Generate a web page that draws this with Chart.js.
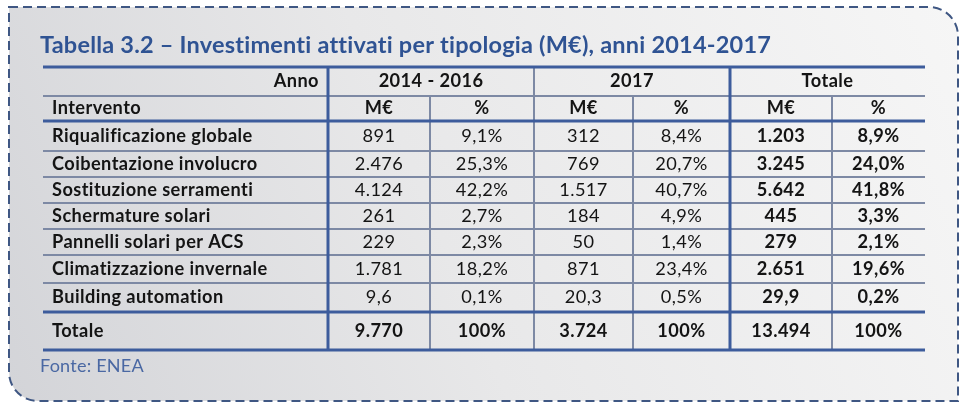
<!DOCTYPE html>
<html><head><meta charset="utf-8">
<script src="https://cdn.jsdelivr.net/npm/chart.js@4"></script>
<style>html,body{margin:0;padding:0;background:#fff;}canvas{display:block;}</style>
</head><body>
<canvas id="c" width="970" height="409"></canvas>
<script>
// ---------- DATA ----------
const TITLE = 'Tabella 3.2 – Investimenti attivati per tipologia (M€), anni 2014-2017';
const SOURCE = 'Fonte: ENEA';
const YEAR_HEADER = 'Anno';
const ROW_HEADER = 'Intervento';
const PERIODS = ['2014 - 2016', '2017', 'Totale'];
const UNITS = ['M€', '%'];
const INTERVENTIONS = [
  'Riqualificazione globale',
  'Coibentazione involucro',
  'Sostituzione serramenti',
  'Schermature solari',
  'Pannelli solari per ACS',
  'Climatizzazione invernale',
  'Building automation'
];
const TOTAL_LABEL = 'Totale';
const MEUR_2014_2016 = [891, 2476, 4124, 261, 229, 1781, 9.6];
const PCT_2014_2016  = [9.1, 25.3, 42.2, 2.7, 2.3, 18.2, 0.1];
const MEUR_2017      = [312, 769, 1517, 184, 50, 871, 20.3];
const PCT_2017       = [8.4, 20.7, 40.7, 4.9, 1.4, 23.4, 0.5];
const MEUR_TOTALE    = [1203, 3245, 5642, 445, 279, 2651, 29.9];
const PCT_TOTALE     = [8.9, 24.0, 41.8, 3.3, 2.1, 19.6, 0.2];
const TOTAL_MEUR     = [9770, 3724, 13494];
const TOTAL_PCT      = [100, 100, 100];

// ---------- LAYOUT / STYLE ----------
const FONT = 'Lato';
const COL_W = [285, 102, 104, 99, 97, 102, 93];           // label column + 6 value columns
const ROW_H = [29, 25, 30, 26, 26, 26, 26, 28, 29, 38];    // 2 header rows, 7 rows, total row
const THICK = {color: '#3d5c9c', width: 3};
const THIN  = {color: '#7d89a4', width: 2};
const TEXT_COLOR = '#141414';
const TITLE_COLOR = '#2f5393';
const SOURCE_COLOR = '#4a68a3';

const sum = a => a.reduce((s, v) => s + v, 0);
const edges = a => a.reduce((e, v) => (e.push(e[e.length - 1] + v), e), [0]);
const COL_E = edges(COL_W), ROW_E = edges(ROW_H);
const colCenter = c => (COL_E[c] + COL_E[c + 1]) / 2;
const rowCenter = r => (ROW_E[r] + ROW_E[r + 1]) / 2;

// font sizing: Lato glyphs sized like the reference, tracking tightened to match widths
const mctx = document.createElement('canvas').getContext('2d');
const HAS_LS = 'letterSpacing' in mctx;
function unitWidth(text, weight) {
  mctx.font = `${weight} 100px ${FONT}`;
  return mctx.measureText(text).width / 100;
}
const nChars = t => Array.from(t).length;
let TITLE_SIZE, TITLE_LS, SOURCE_SIZE, BODY_SIZE, BODY_LS;
if (HAS_LS) {
  TITLE_SIZE = 23.5;
  TITLE_LS = (732 - TITLE_SIZE * unitWidth(TITLE, 'bold')) / nChars(TITLE);
  SOURCE_SIZE = (104 - TITLE_LS * nChars(SOURCE)) / unitWidth(SOURCE, 'normal');
  BODY_SIZE = 18.2;
  BODY_LS = (216 - BODY_SIZE * unitWidth(INTERVENTIONS[5], 'bold')) / nChars(INTERVENTIONS[5]);
} else {
  TITLE_LS = 0; BODY_LS = 0;
  TITLE_SIZE = 732 / unitWidth(TITLE, 'bold');
  SOURCE_SIZE = 104 / unitWidth(SOURCE, 'normal');
  BODY_SIZE = 216 / unitWidth(INTERVENTIONS[5], 'bold');
}

// number formatting (Italian)
function fmtNum(v) {
  const parts = String(v).split('.');
  const i = parts[0].replace(/\B(?=(\d{3})+(?!\d))/g, '.');
  return parts[1] ? i + ',' + parts[1] : i;
}
const fmtPct = v => v.toFixed(1).replace('.', ',') + '%';
const fmtTotPct = v => String(v) + '%';

const COLUMNS = [
  {vals: MEUR_2014_2016, fmt: fmtNum, tot: TOTAL_MEUR[0], tfmt: fmtNum, bold: false},
  {vals: PCT_2014_2016,  fmt: fmtPct, tot: TOTAL_PCT[0],  tfmt: fmtTotPct, bold: false},
  {vals: MEUR_2017,      fmt: fmtNum, tot: TOTAL_MEUR[1], tfmt: fmtNum, bold: false},
  {vals: PCT_2017,       fmt: fmtPct, tot: TOTAL_PCT[1],  tfmt: fmtTotPct, bold: false},
  {vals: MEUR_TOTALE,    fmt: fmtNum, tot: TOTAL_MEUR[2], tfmt: fmtNum, bold: true},
  {vals: PCT_TOTALE,     fmt: fmtPct, tot: TOTAL_PCT[2],  tfmt: fmtTotPct, bold: true}
];

const datasets = COLUMNS.map((col, c) => {
  const data = col.vals.map((v, r) => ({x: colCenter(c + 1), y: rowCenter(r + 2), v, t: col.fmt(v), b: col.bold}));
  data.push({x: colCenter(c + 1), y: rowCenter(ROW_H.length - 1), v: col.tot, t: col.tfmt(col.tot), b: true});
  return {data, pointRadius: 0, pointHoverRadius: 0, showLine: false};
});

const bgPlugin = {
  id: 'bg',
  beforeDraw(chart) {
    const ctx = chart.ctx;
    ctx.save();
    ctx.fillStyle = '#ffffff';
    ctx.fillRect(0, 0, chart.width, chart.height);
    const L = 9, T = 7, R = 958, B = 401, r = 29;
    ctx.beginPath();
    ctx.moveTo(L, T);
    ctx.lineTo(R - r, T);
    ctx.arcTo(R, T, R, T + r, r);
    ctx.lineTo(R, B);
    ctx.lineTo(L + r, B);
    ctx.arcTo(L, B, L, B - r, r);
    ctx.closePath();
    const g = ctx.createLinearGradient(R, T, L, B);
    g.addColorStop(0, '#f6f6f6');
    g.addColorStop(0.55, '#e8e8e9');
    g.addColorStop(1, '#d3d4d8');
    ctx.fillStyle = g;
    ctx.fill();
    ctx.setLineDash([9, 5]);
    ctx.lineWidth = 2;
    ctx.strokeStyle = '#3f5783';
    ctx.stroke();
    ctx.restore();
    // tracking used by the title / source boxes drawn next
    if (HAS_LS) ctx.letterSpacing = TITLE_LS + 'px';
  }
};

const tablePlugin = {
  id: 'table',
  beforeDatasetsDraw(chart) {
    const {ctx, scales: {x, y}} = chart;
    const nR = ROW_H.length, nC = COL_W.length;
    const X = i => x.getPixelForValue(COL_E[i]);
    const Y = i => y.getPixelForValue(ROW_E[i]);
    const hline = (i, s) => { ctx.strokeStyle = s.color; ctx.lineWidth = s.width; ctx.beginPath(); ctx.moveTo(X(0), Y(i)); ctx.lineTo(X(nC), Y(i)); ctx.stroke(); };
    const vline = (i, r0, s) => { ctx.strokeStyle = s.color; ctx.lineWidth = s.width; ctx.beginPath(); ctx.moveTo(X(i), Y(r0)); ctx.lineTo(X(i), Y(nR)); ctx.stroke(); };
    ctx.save();
    // thin lines
    [1, 3, 4, 5, 6, 7, 8].forEach(i => hline(i, THIN));
    vline(3, 0, THIN);
    [2, 4, 6].forEach(i => vline(i, 1, THIN));
    // thick lines
    vline(1, 0, THICK);
    vline(5, 0, THICK);
    [0, 2, nR - 1, nR].forEach(i => hline(i, THICK));

    // header & labels
    if (HAS_LS) ctx.letterSpacing = BODY_LS + 'px';
    ctx.fillStyle = TEXT_COLOR;
    ctx.textBaseline = 'middle';
    ctx.font = `bold ${BODY_SIZE}px ${FONT}`;
    const pad = x.getPixelForValue(COL_E[0] + 9) - X(0);
    ctx.textAlign = 'right';
    ctx.fillText(YEAR_HEADER, X(1) - pad, y.getPixelForValue(rowCenter(0)));
    ctx.textAlign = 'center';
    PERIODS.forEach((p, k) => {
      const cx = x.getPixelForValue((COL_E[1 + 2 * k] + COL_E[3 + 2 * k]) / 2);
      ctx.fillText(p, cx, y.getPixelForValue(rowCenter(0)));
      UNITS.forEach((u, j) => ctx.fillText(u, x.getPixelForValue(colCenter(1 + 2 * k + j)), y.getPixelForValue(rowCenter(1))));
    });
    ctx.textAlign = 'left';
    const lx = X(0) + pad;
    ctx.fillText(ROW_HEADER, lx, y.getPixelForValue(rowCenter(1)));
    INTERVENTIONS.forEach((lab, r) => ctx.fillText(lab, lx, y.getPixelForValue(rowCenter(r + 2))));
    ctx.fillText(TOTAL_LABEL, lx, y.getPixelForValue(rowCenter(nR - 1)));
    ctx.restore();
  },
  afterDatasetsDraw(chart) {
    const ctx = chart.ctx;
    ctx.save();
    if (HAS_LS) ctx.letterSpacing = BODY_LS + 'px';
    ctx.fillStyle = TEXT_COLOR;
    ctx.textAlign = 'center';
    ctx.textBaseline = 'middle';
    chart.data.datasets.forEach((ds, di) => {
      chart.getDatasetMeta(di).data.forEach((el, i) => {
        const raw = ds.data[i];
        ctx.font = `${raw.b ? 'bold' : 'normal'} ${BODY_SIZE}px ${FONT}`;
        ctx.fillText(raw.t, el.x, el.y);
      });
    });
    ctx.restore();
  }
};

const TABLE_TOP = 67, TABLE_BOTTOM = 350, TITLE_MID = 45, SOURCE_MID = 366.5;
const tPadTop = TITLE_MID - 0.6 * TITLE_SIZE;
const tPadBottom = TABLE_TOP - tPadTop - 1.2 * TITLE_SIZE;
const sPadTop = SOURCE_MID - TABLE_BOTTOM - 0.6 * SOURCE_SIZE;
const sPadBottom = 8;
const layoutBottom = 409 - TABLE_BOTTOM - sPadTop - 1.2 * SOURCE_SIZE - sPadBottom;

new Chart(document.getElementById('c'), {
  type: 'scatter',
  data: {datasets},
  options: {
    responsive: false,
    animation: false,
    events: [],
    layout: {padding: {left: 40, right: 45, top: 0, bottom: layoutBottom}},
    scales: {
      x: {type: 'linear', display: false, min: -3, max: sum(COL_W)},
      y: {type: 'linear', display: false, reverse: true, min: 0, max: sum(ROW_H)}
    },
    plugins: {
      legend: {display: false},
      tooltip: {enabled: false},
      title: {display: true, text: TITLE, align: 'start', color: TITLE_COLOR,
        font: {family: FONT, size: TITLE_SIZE, weight: 'bold', lineHeight: 1.2},
        padding: {top: tPadTop, bottom: tPadBottom}},
      subtitle: {display: true, position: 'bottom', text: SOURCE, align: 'start', color: SOURCE_COLOR,
        font: {family: FONT, size: SOURCE_SIZE, weight: 'normal', lineHeight: 1.2},
        padding: {top: sPadTop, bottom: sPadBottom}}
    }
  },
  plugins: [bgPlugin, tablePlugin]
});
</script>
</body></html>
